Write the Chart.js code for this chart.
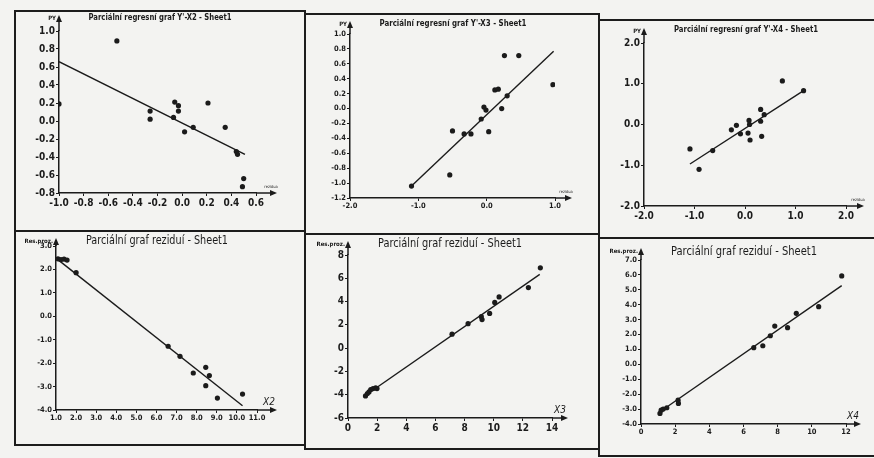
<!DOCTYPE html>
<html>
<head>
<meta charset="utf-8">
<script src="https://cdn.jsdelivr.net/npm/chart.js@4.4.0/dist/chart.umd.min.js"></script>
<style>
  html, body { margin: 0; padding: 0; }
  body { width: 874px; height: 458px; background: #f3f3f1; position: relative; overflow: hidden; }
  canvas { position: absolute; }
  .frame { position: absolute; border: 2px solid #1c1c1c; box-sizing: border-box; pointer-events: none; }
</style>
</head>
<body>
<script>
// --- data ---
const p1Title = "Parciální regresní graf Y'-X2 - Sheet1";
const p1X = [-0.53, -1.00, -0.26, -0.26, -0.07, -0.06, -0.03, -0.03, 0.02, 0.09, 0.21, 0.35, 0.44, 0.45, 0.50, 0.49];
const p1Y = [0.89, 0.19, 0.11, 0.02, 0.04, 0.21, 0.17, 0.11, -0.12, -0.07, 0.20, -0.07, -0.34, -0.37, -0.64, -0.73];
const p1FitX = [-1.00, 0.51];
const p1FitY = [0.66, -0.37];
const p1XTicks = [-1.0, -0.8, -0.6, -0.4, -0.2, 0.0, 0.2, 0.4, 0.6];
const p1YTicks = [-0.8, -0.6, -0.4, -0.2, 0.0, 0.2, 0.4, 0.6, 0.8, 1.0];

const p2Title = "Parciální regresní graf Y'-X3 - Sheet1";
const p2X = [-1.10, -0.54, -0.50, -0.33, -0.23, -0.08, -0.04, -0.01, 0.03, 0.12, 0.17, 0.22, 0.30, 0.26, 0.47, 0.97];
const p2Y = [-1.04, -0.89, -0.30, -0.34, -0.34, -0.14, 0.02, -0.02, -0.31, 0.25, 0.26, 0.00, 0.17, 0.71, 0.71, 0.32];
const p2FitX = [-1.10, 0.98];
const p2FitY = [-1.04, 0.77];
const p2XTicks = [-2.0, -1.0, 0.0, 1.0];
const p2YTicks = [-1.2, -1.0, -0.8, -0.6, -0.4, -0.2, 0.0, 0.2, 0.4, 0.6, 0.8, 1.0];

const p3Title = "Parciální regresní graf Y'-X4 - Sheet1";
const p3X = [-1.09, -0.91, -0.64, -0.27, -0.17, -0.09, 0.06, 0.08, 0.09, 0.10, 0.31, 0.31, 0.33, 0.38, 0.74, 1.16];
const p3Y = [-0.60, -1.10, -0.64, -0.13, -0.02, -0.23, -0.21, 0.10, 0.00, -0.38, 0.37, 0.08, -0.29, 0.24, 1.07, 0.83];
const p3FitX = [-1.09, 1.16];
const p3FitY = [-0.97, 0.83];
const p3XTicks = [-2.0, -1.0, 0.0, 1.0, 2.0];
const p3YTicks = [-2.0, -1.0, 0.0, 1.0, 2.0];

const resTitle = "Parciální graf reziduí - Sheet1";

const p4X = [1.10, 1.25, 1.40, 1.55, 2.00, 6.58, 7.17, 7.83, 8.45, 8.45, 8.63, 9.03, 10.28];
const p4Y = [2.45, 2.42, 2.44, 2.40, 1.86, -1.28, -1.71, -2.42, -2.18, -2.96, -2.53, -3.49, -3.32];
const p4FitX = [1.03, 10.28];
const p4FitY = [2.46, -3.82];
const p4XTicks = [1, 2, 3, 4, 5, 6, 7, 8, 9, 10, 11];
const p4YTicks = [-4, -3, -2, -1, 0, 1, 2, 3];

const p5X = [1.20, 1.33, 1.44, 1.56, 1.72, 1.90, 1.99, 7.14, 8.24, 9.15, 9.20, 9.72, 10.07, 10.37, 12.38, 13.20];
const p5Y = [-4.10, -3.90, -3.76, -3.56, -3.47, -3.42, -3.47, 1.20, 2.10, 2.70, 2.45, 2.98, 3.93, 4.40, 5.20, 6.90];
const p5FitX = [1.21, 13.16];
const p5FitY = [-4.05, 6.34];
const p5XTicks = [0, 2, 4, 6, 8, 10, 12, 14];
const p5YTicks = [-6, -4, -2, 0, 2, 4, 6, 8];

const p6X = [1.11, 1.18, 1.30, 1.51, 2.17, 2.19, 6.60, 7.13, 7.57, 7.83, 8.58, 9.09, 10.40, 11.75];
const p6Y = [-3.29, -3.07, -3.00, -2.91, -2.40, -2.62, 1.12, 1.25, 1.92, 2.57, 2.46, 3.42, 3.87, 5.93];
const p6FitX = [1.11, 11.75];
const p6FitY = [-3.18, 5.28];
const p6XTicks = [0, 2, 4, 6, 8, 10, 12];
const p6YTicks = [-4, -3, -2, -1, 0, 1, 2, 3, 4, 5, 6, 7];

const NARROW = '"Liberation Sans Narrow", "Arial Narrow", "DejaVu Sans Condensed", sans-serif';
const INK = "#1b1b1b";

// box = canvas rect on page, area = plot rect on page [left, right, top, bottom]
// tpos = title centre, tw = title width on the scan
const panels = [
    { box: [14, 10, 290, 220], area: [59, 256, 31, 193], xs: p1X, ys: p1Y, fx: p1FitX, fy: p1FitY,
      xt: p1XTicks, yt: p1YTicks, xd: 1, yd: 1, fs: 10, title: p1Title, tfont: "bold 9px " + NARROW,
      tpos: [160, 18], tw: 143, yTip: 15, xTip: 277, yName: "PY", xName: "rezidua" },
    { box: [304, 13, 294, 220], area: [350, 555, 34, 198], xs: p2X, ys: p2Y, fx: p2FitX, fy: p2FitY,
      xt: p2XTicks, yt: p2YTicks, xd: 1, yd: 1, fs: 7.5, title: p2Title, tfont: "bold 9px " + NARROW,
      tpos: [453, 24], tw: 147, yTip: 21, xTip: 572, yName: "PY", xName: "rezidua" },
    { box: [598, 19, 276, 218], area: [644, 846, 43, 206], xs: p3X, ys: p3Y, fx: p3FitX, fy: p3FitY,
      xt: p3XTicks, yt: p3YTicks, xd: 1, yd: 1, fs: 10, title: p3Title, tfont: "bold 9px " + NARROW,
      tpos: [746, 30], tw: 144, yTip: 28, xTip: 864, yName: "PY", xName: "rezidua" },
    { box: [14, 230, 290, 214], area: [56, 257, 246, 410], xs: p4X, ys: p4Y, fx: p4FitX, fy: p4FitY,
      xt: p4XTicks, yt: p4YTicks, xd: 1, yd: 1, fs: 7.5, title: resTitle, tfont: "13px " + NARROW,
      tpos: [157, 241], tw: 142, yTip: 238, xTip: 277, yName: "Res.proz.", xName: "X2" },
    { box: [304, 233, 294, 215], area: [348, 552, 255, 418], xs: p5X, ys: p5Y, fx: p5FitX, fy: p5FitY,
      xt: p5XTicks, yt: p5YTicks, xd: 0, yd: 0, fs: 10, title: resTitle, tfont: "13px " + NARROW,
      tpos: [450, 244], tw: 144, yTip: 241, xTip: 568, yName: "Res.proz.", xName: "X3" },
    { box: [598, 237, 276, 218], area: [641, 846, 260, 424], xs: p6X, ys: p6Y, fx: p6FitX, fy: p6FitY,
      xt: p6XTicks, yt: p6YTicks, xd: 0, yd: 1, fs: 7.5, title: resTitle, tfont: "13px " + NARROW,
      tpos: [744, 252], tw: 146, yTip: 248, xTip: 861, yName: "Res.proz.", xName: "X4" }
];

function arrowHead(ctx, x, y, dir) {
    ctx.beginPath();
    if (dir === "up") {
        ctx.moveTo(x, y); ctx.lineTo(x - 3, y + 7); ctx.lineTo(x + 3, y + 7);
    } else {
        ctx.moveTo(x, y); ctx.lineTo(x - 7, y - 3); ctx.lineTo(x - 7, y + 3);
    }
    ctx.closePath();
    ctx.fill();
}

// titles, arrows and axis names (one plugin per panel)
function makeDecor(p) {
    return {
        id: "decor",
        afterDraw(chart) {
            const ctx = chart.ctx;
            const ox = p.box[0], oy = p.box[1];
            const a = chart.chartArea;
            ctx.save();
            ctx.strokeStyle = INK;
            ctx.fillStyle = INK;
            ctx.lineWidth = 1.5;
            // y axis extension
            ctx.beginPath();
            ctx.moveTo(a.left, a.top);
            ctx.lineTo(a.left, p.yTip - oy + 4);
            ctx.stroke();
            arrowHead(ctx, a.left, p.yTip - oy, "up");
            // x axis extension
            ctx.beginPath();
            ctx.moveTo(a.right, a.bottom);
            ctx.lineTo(p.xTip - ox - 4, a.bottom);
            ctx.stroke();
            arrowHead(ctx, p.xTip - ox, a.bottom, "right");
            // title, squeezed to the condensed width of the scan
            ctx.font = p.tfont;
            ctx.textAlign = "center";
            ctx.textBaseline = "middle";
            const w = ctx.measureText(p.title).width;
            ctx.save();
            ctx.translate(p.tpos[0] - ox, p.tpos[1] - oy);
            ctx.scale(Math.min(1, p.tw / w), 1);
            ctx.fillText(p.title, 0, 0);
            ctx.restore();
            // y name
            ctx.font = "bold 6px " + NARROW;
            ctx.textAlign = "right";
            ctx.fillText(p.yName, a.left - 3, p.yTip - oy + 3);
            // x name
            if (p.xName === "rezidua") {
                ctx.font = "4px " + NARROW;
                ctx.textAlign = "center";
                ctx.fillText(p.xName, p.xTip - ox - 6, a.bottom - 6);
            } else {
                ctx.font = "italic 10px " + NARROW;
                ctx.textAlign = "center";
                ctx.fillText(p.xName, p.xTip - ox - 8, a.bottom - 8);
            }
            ctx.restore();
        }
    };
}

function axis(ticks, dec, fs, size, horizontal) {
    return {
        type: "linear",
        min: ticks[0],
        max: ticks[ticks.length - 1],
        afterBuildTicks: (s) => { s.ticks = ticks.map(v => ({ value: v })); },
        afterFit: (s) => { if (horizontal) s.height = size; else s.width = size; },
        grid: { display: true, drawOnChartArea: false, drawTicks: true, tickLength: 3, color: INK, lineWidth: 1 },
        border: { display: true, color: INK, width: 1.5 },
        ticks: {
            autoSkip: false,
            maxRotation: 0,
            padding: 1,
            color: INK,
            font: { family: NARROW, size: fs, weight: "bold" },
            callback: (v) => Number(v).toFixed(dec)
        }
    };
}

panels.forEach((p) => {
    const [bx, by, bw, bh] = p.box;
    const cv = document.createElement("canvas");
    cv.width = bw; cv.height = bh;
    cv.style.left = bx + "px"; cv.style.top = by + "px";
    cv.style.width = bw + "px"; cv.style.height = bh + "px";
    document.body.appendChild(cv);

    const frame = document.createElement("div");
    frame.className = "frame";
    frame.style.left = bx + "px"; frame.style.top = by + "px";
    frame.style.width = (bw + 2) + "px"; frame.style.height = (bh + 2) + "px";
    document.body.appendChild(frame);

    const L = p.area[0] - bx, R = p.area[1] - bx, T = p.area[2] - by, B = p.area[3] - by;

    new Chart(cv, {
        type: "scatter",
        data: {
            datasets: [{
                data: p.xs.map((x, k) => ({ x: x, y: p.ys[k] })),
                pointRadius: 2.6,
                pointBackgroundColor: INK,
                pointBorderColor: INK,
                pointBorderWidth: 0
            }, {
                data: p.fx.map((x, k) => ({ x: x, y: p.fy[k] })),
                showLine: true,
                borderColor: INK,
                borderWidth: 1.4,
                pointRadius: 0
            }]
        },
        options: {
            responsive: false,
            animation: false,
            devicePixelRatio: 1,
            layout: { padding: { left: 0, top: T, right: bw - R, bottom: 0 } },
            plugins: { legend: { display: false }, tooltip: { enabled: false }, title: { display: false } },
            scales: {
                x: axis(p.xt, p.xd, p.fs, bh - B, true),
                y: axis(p.yt, p.yd, p.fs, L, false)
            }
        },
        plugins: [makeDecor(p)]
    });
});
</script>
</body>
</html>
